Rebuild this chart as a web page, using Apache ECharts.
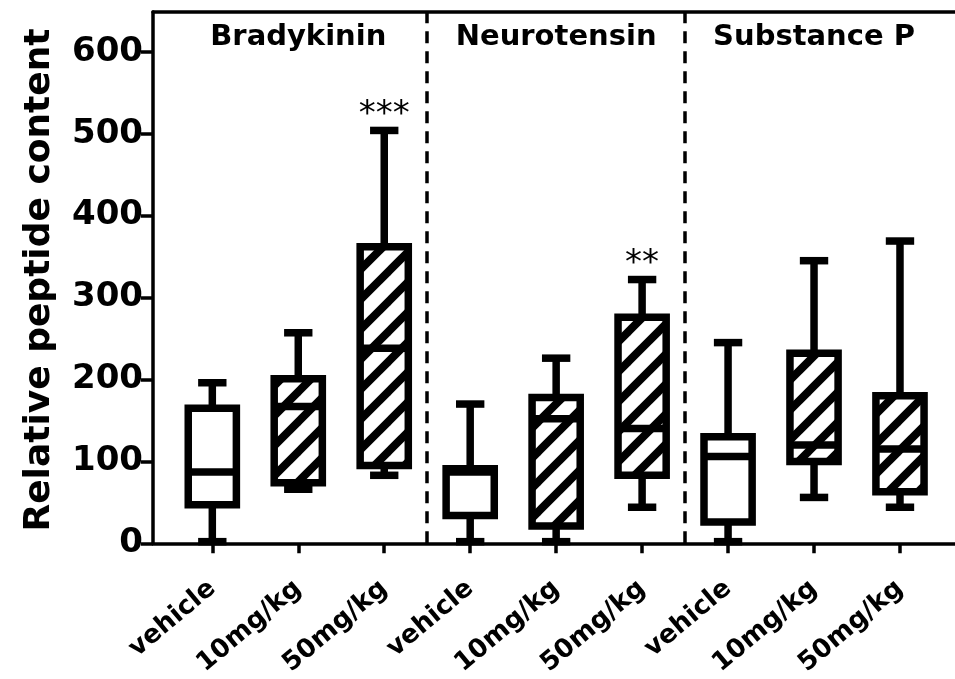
<!DOCTYPE html>
<html><head><meta charset="utf-8">
<script src="https://cdn.jsdelivr.net/npm/echarts@6/dist/echarts.min.js"></script>
<style>html,body{margin:0;padding:0;background:#fff}#c{width:955px;height:679px}</style>
</head><body><div id="c"></div>
<script>
// ---- data ----
const categories = ['vehicle','10mg/kg','50mg/kg','vehicle','10mg/kg','50mg/kg','vehicle','10mg/kg','50mg/kg'];
const groupNames = ['Bradykinin','Neurotensin','Substance P'];
const groupCenters = [1, 4, 7];
const groupSeparators = [2.5, 5.5];
const mins    = [2,   66,  83,  2,   2,   44,  2,   56,  44];
const q1s     = [47,  74,  95,  34,  21,  83,  26,  100, 63];
const medians = [87,  167, 238, 87,  152, 140, 106, 120, 115];
const q3s     = [165, 201, 362, 91,  178, 276, 130, 232, 180];
const maxs    = [196, 257, 504, 170, 226, 322, 245, 345, 369];
const hatched = [false,true,true,false,true,true,false,true,true];
const sig     = ['', '', '***', '', '', '**', '', '', ''];
const yTicks  = [0,100,200,300,400,500,600];
const xTicks  = [0,1,2,3,4,5,6,7,8];

// ---- hatch pattern ----
function makeHatch(){
  const T = 30, c = document.createElement('canvas');
  c.width = T; c.height = T;
  const g = c.getContext('2d');
  g.fillStyle = '#fff'; g.fillRect(0,0,T,T);
  g.strokeStyle = '#000'; g.lineWidth = 8;
  [0, T, 2*T].forEach(k => { g.beginPath(); g.moveTo(-T, k + T); g.lineTo(k + T, -T); g.stroke(); });
  return c;
}
const hatchPattern = { image: makeHatch(), repeat: 'repeat' };

const chart = echarts.init(document.getElementById('c'));
const boxData = categories.map((c, i) => [i, mins[i], q1s[i], medians[i], q3s[i], maxs[i]]);
const titleData = groupNames.map((n, i) => [groupCenters[i], 618]);

const LW = 7.5;
function renderBox(params, api){
  const i = params.dataIndex;
  const x = api.value(0);
  const pMin = api.coord([x, api.value(1)]);
  const pQ1 = api.coord([x, api.value(2)]);
  const pMed = api.coord([x, api.value(3)]);
  const pQ3 = api.coord([x, api.value(4)]);
  const pMax = api.coord([x, api.value(5)]);
  const band = api.size([1, 0])[0];
  const bw = band * 0.56, cw = band * 0.33;
  const cx = pMin[0];
  const ls = { stroke: '#000', lineWidth: LW };
  const children = [
    { type: 'line', shape: { x1: cx, y1: pQ3[1], x2: cx, y2: pMax[1] }, style: ls },
    { type: 'line', shape: { x1: cx - cw/2, y1: pMax[1], x2: cx + cw/2, y2: pMax[1] }, style: ls },
    { type: 'line', shape: { x1: cx, y1: pQ1[1], x2: cx, y2: pMin[1] }, style: ls },
    { type: 'line', shape: { x1: cx - cw/2, y1: pMin[1], x2: cx + cw/2, y2: pMin[1] }, style: ls },
    { type: 'rect', shape: { x: cx - bw/2, y: pQ3[1], width: bw, height: pQ1[1] - pQ3[1] },
      style: { fill: hatched[i] ? hatchPattern : '#fff', stroke: '#000', lineWidth: LW } },
    { type: 'line', shape: { x1: cx - bw/2, y1: pMed[1], x2: cx + bw/2, y2: pMed[1] }, style: ls }
  ];
  if (sig[i]) {
    children.push({ type: 'text', x: cx, y: pMax[1] - 15,
      style: { text: sig[i], font: 'normal 34px "DejaVu Sans"', fill: '#000', align: 'center', verticalAlign: 'middle' } });
  }
  return { type: 'group', children };
}
function renderTitle(params, api){
  const p = api.coord([api.value(0), api.value(1)]);
  return { type: 'text', x: p[0], y: p[1],
    style: { text: groupNames[params.dataIndex], font: 'bold 29px "DejaVu Sans"', fill: '#000', align: 'center', verticalAlign: 'middle' } };
}

const axisLineStyle = { color: '#000', width: 3.5 };
chart.setOption({
  animation: false,
  grid: { left: 153, right: 0, top: 12, bottom: 133 },
  xAxis: [{
    type: 'value', min: -0.69, max: 8.64,
    axisLine: { show: true, onZero: false, lineStyle: axisLineStyle },
    axisTick: { show: true, customValues: xTicks, length: 10, lineStyle: { color: '#000', width: 3.5 } },
    axisLabel: { customValues: xTicks, formatter: v => categories[v], rotate: 40, margin: 42,
      fontFamily: 'DejaVu Sans', fontWeight: 'bold', fontSize: 26, color: '#000' },
    splitLine: { show: false }
  }, {
    type: 'value', position: 'top', min: -0.69, max: 8.64,
    axisLine: { show: true, onZero: false, lineStyle: axisLineStyle },
    axisTick: { show: false }, axisLabel: { show: false }, splitLine: { show: false }
  }],
  yAxis: {
    type: 'value', min: 0, max: 648.6,
    axisLine: { show: true, onZero: false, lineStyle: axisLineStyle },
    axisTick: { show: true, customValues: yTicks, length: 12, lineStyle: { color: '#000', width: 3.5 } },
    axisLabel: { customValues: yTicks, margin: 10, fontFamily: 'DejaVu Sans', fontWeight: 'bold', fontSize: 34, color: '#000' },
    splitLine: { show: false }
  },
  graphic: [{
    type: 'text', x: 40, y: 280, rotation: Math.PI / 2,
    style: { text: 'Relative peptide content', font: 'bold 36px "DejaVu Sans"', fill: '#000', align: 'center', verticalAlign: 'middle' }
  }],
  series: [{
    type: 'custom', renderItem: renderBox, data: boxData, clip: false,
    encode: { x: 0, y: [1, 5] },
    markLine: {
      silent: true, symbol: ['none', 'none'], label: { show: false },
      lineStyle: { color: '#000', width: 3.5, type: [12, 8] },
      data: groupSeparators.map(v => ({ xAxis: v }))
    }
  }, {
    type: 'custom', renderItem: renderTitle, data: titleData, silent: true
  }]
});
</script></body></html>
